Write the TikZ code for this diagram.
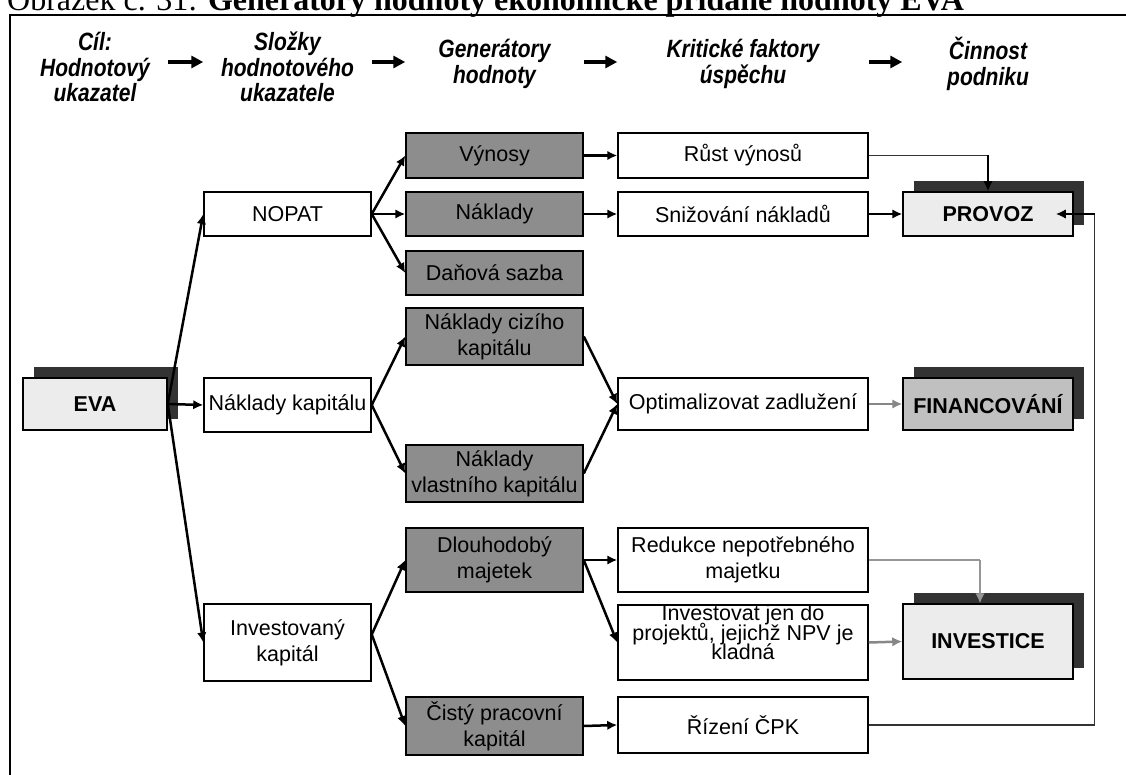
\documentclass[tikz,border=0pt]{standalone}
\usepackage{fontspec}
\setmainfont{Liberation Sans}
\newfontfamily\titlefont{Liberation Serif}
\newfontfamily\hdrfont[FakeStretch=0.84]{Liberation Sans}
\usetikzlibrary{arrows.meta,shadows,calc}

\definecolor{genfill}{RGB}{141,141,141}
\definecolor{lightfill}{RGB}{236,236,236}
\definecolor{finfill}{RGB}{192,192,192}
\definecolor{shadowc}{RGB}{51,51,51}
\definecolor{softgray}{RGB}{135,135,135}
\definecolor{paleline}{RGB}{150,150,150}

\newcommand\diagfont{\fontsize{21.5}{26}\selectfont}
\newcommand\hdrthree{\hdrfont\fontsize{25}{25.5}\selectfont\bfseries\itshape}
\newcommand\hdrtwo{\hdrfont\fontsize{25}{26}\selectfont\bfseries\itshape}
% one centred line of a tightly set stack
\newcommand\stackline[1]{\hbox to 250pt{\hfil #1\hfil}}

\begin{document}
\begin{tikzpicture}[x=1pt, y=-1pt,
  cellbox/.style={draw=black, line width=1.5pt, inner sep=0pt, align=center, font=\diagfont},
  compbox/.style={cellbox, fill=white, minimum width=167pt},
  genbox/.style={cellbox, fill=genfill, minimum width=177pt},
  factbox/.style={cellbox, fill=white, minimum width=250pt},
  raised/.style={drop shadow={shadow xshift=11pt, shadow yshift=11pt, fill=shadowc, opacity=1}},
  actbox/.style={cellbox, raised, fill=lightfill, minimum width=170pt, font=\diagfont\bfseries},
  hdrtext/.style={align=center, inner sep=0pt},
  conn/.style={line width=2.5pt, -{Latex[length=10pt,width=9.5pt]}},
  softconn/.style={conn, draw=softgray},
  thinlink/.style={line width=1.3pt, draw=shadowc},
  softlink/.style={line width=1.4pt, draw=paleline},
  hdrarrow/.style={line width=3.2pt, -{Triangle[length=12pt,width=12pt]}}
]
\useasboundingbox (0,0) rectangle (1126,775);
\clip (0,0) rectangle (1126,775);

% caption line, partly cut by the page edge
\node[anchor=base west, inner sep=0pt, font=\titlefont\fontsize{32}{36}\selectfont] (caption) at (7,11)
  {Obrázek č. 31: \textbf{Generátory hodnoty ekonomické přidané hodnoty EVA}};

% frame
\draw[line width=1.8pt] (10,790) -- (10,15) -- (1140,15);

% target
\node[cellbox, raised, fill=lightfill, minimum width=144pt, minimum height=52pt, font=\diagfont\bfseries] (eva) at (95,404) {EVA};

% components of the value indicator
\node[compbox, minimum height=44pt] (nopat) at (287.5,214) {NOPAT};
\node[compbox, minimum height=54pt] (nkap) at (287.5,405) {Náklady kapitálu};
\node[compbox, minimum height=77pt] (ikap) at (287.5,642.5) {Investovaný\\kapitál};

% value drivers
\node[genbox, minimum height=45pt] (vyn) at (494.5,155.5) {Výnosy};
\node[genbox, minimum height=44pt] (nakl) at (494.5,214) {Náklady};
\node[genbox, minimum height=44pt] (dan) at (494.5,273) {Daňová sazba};
\node[genbox, minimum height=57pt] (ncizi) at (494.5,336.5) {Náklady cizího\\kapitálu};
\node[genbox, minimum height=57pt] (nvlast) at (494.5,473.5) {Náklady\\vlastního kapitálu};
\node[genbox, minimum height=64pt] (dlouh) at (494.5,560) {Dlouhodobý\\majetek};
\node[genbox, minimum height=58pt] (cpk) at (494.5,726) {Čistý pracovní\\kapitál};

% critical success factors
\node[factbox, minimum height=45pt] (rust) at (743,155.5) {Růst výnosů};
\node[factbox, minimum height=44pt] (sniz) at (743,214) {Snižování nákladů};
\node[factbox, minimum height=52pt] (optim) at (743,404) {Optimalizovat zadlužení};
\node[factbox, minimum height=64pt] (redukce) at (743,560) {Redukce nepotřebného\\majetku};
\node[factbox, minimum height=75pt, text depth=20.5pt] (invest) at (743,642.5)
  {\vbox{\baselineskip=19.5pt\lineskiplimit=-50pt
    \stackline{Investovat jen do}\stackline{projektů, jejichž NPV je}\stackline{kladná}}};
\node[factbox, minimum height=56pt] (rizeni) at (743,725) {Řízení ČPK};

% business activities
\node[actbox, minimum height=44pt] (provoz) at (988,214) {PROVOZ};
\node[actbox, fill=finfill, minimum height=52pt] (financ) at (988,404) {FINANCOVÁNÍ};
\node[actbox, minimum height=75pt] (investice) at (988,641.5) {INVESTICE};

% column headings
\coordinate (hy) at (0,62);
\node[hdrtext, font=\hdrthree] (h1) at (95,67) {Cíl:\\Hodnotový\\ukazatel};
\node[hdrtext, font=\hdrthree] (h2) at (287.5,67) {Složky\\hodnotového\\ukazatele};
\node[hdrtext, font=\hdrtwo] (h3) at (494.5,64) {Generátory\\hodnoty};
\node[hdrtext, font=\hdrtwo] (h4) at (743,64) {Kritické faktory\\úspěchu};
\node[hdrtext, font=\hdrtwo] (h5) at (988,64) {Činnost\\podniku};
\draw[hdrarrow] (eva.east |- hy) -- (nopat.west |- hy);
\draw[hdrarrow] (nopat.east |- hy) -- (vyn.west |- hy);
\draw[hdrarrow] (vyn.east |- hy) -- (rust.west |- hy);
\draw[hdrarrow] (rust.east |- hy) -- (provoz.west |- hy);

% EVA to its components
\draw[conn] (eva.east) -- (nopat.west);
\draw[conn] (eva.east) -- (nkap.west);
\draw[conn] (eva.east) -- (ikap.west);

% components to value drivers
\draw[conn] (nopat.east) -- (vyn.west);
\draw[conn] (nopat.east) -- (nakl.west);
\draw[conn] (nopat.east) -- (dan.west);
\draw[conn] (nkap.east) -- (ncizi.west);
\draw[conn] (nkap.east) -- (nvlast.west);
\coordinate (ikapout) at ($(ikap.east)+(0,-8)$);
\draw[conn] (ikapout) -- (dlouh.west);
\draw[conn] (ikapout) -- (cpk.west);

% value drivers to success factors
\draw[conn] (vyn.east) -- (rust.west);
\draw[conn] (nakl.east) -- (sniz.west);
\draw[conn] (ncizi.east) -- (optim.west);
\draw[conn] (nvlast.east) -- (optim.west);
\draw[conn] (dlouh.east) -- (redukce.west);
\draw[conn] (dlouh.east) -- (invest.west);
\draw[conn] (cpk.east) -- (rizeni.west);

% success factors to activities
\coordinate (rustturn) at (provoz.north |- rust.east);
\draw[thinlink] (rust.east) -- (rustturn);
\draw[conn] (rustturn) -- (provoz.north);
\draw[conn] (sniz.east) -- (provoz.west);
\draw[softconn] (optim.east) -- (financ.west);
\coordinate (redx) at ($(investice.north)+(-8,0)$);
\coordinate (redturn) at (redx |- redukce.east);
\draw[softlink] (redukce.east) -- (redturn);
\draw[softlink, -{Latex[length=10pt,width=9.5pt]}] (redturn) -- (redx |- investice.north);
\draw[softconn] (invest.east) -- (investice.west);

% working capital loop back to operations
\coordinate (loopbottom) at ($(rizeni.east)+(226,0)$);
\coordinate (looptop) at (loopbottom |- provoz.east);
\draw[thinlink] (rizeni.east) -- (loopbottom) -- (looptop);
\draw[conn] (looptop) -- ($(provoz.east)+(-18,0)$);
\end{tikzpicture}
\end{document}
